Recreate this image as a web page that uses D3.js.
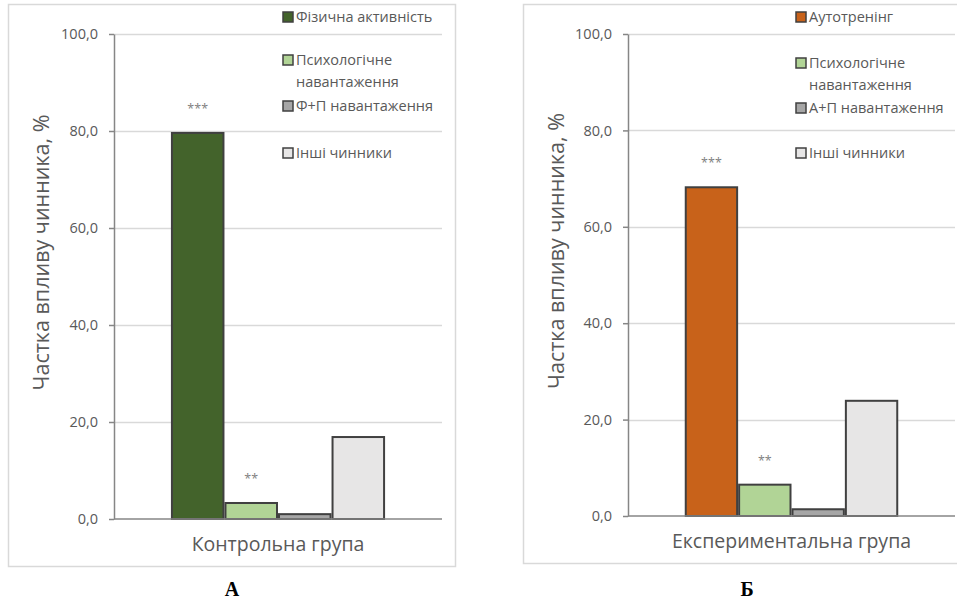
<!DOCTYPE html>
<html>
<head>
<meta charset="utf-8">
<script src="https://cdn.jsdelivr.net/npm/d3@7/dist/d3.min.js"></script>
<style>
  body { margin: 0; background: #fff; }
  svg { display: block; font-family: "Open Sans", "Noto Sans", sans-serif; }
</style>
</head>
<body>
<svg id="chart" width="957" height="602"></svg>
<script>
// data
const groups = ["Контрольна група", "Експериментальна група"];
const panelLetters = ["А", "Б"];
const seriesA = ["Фізична активність", "Психологічне навантаження", "Ф+П навантаження", "Інші чинники"];
const seriesB = ["Аутотренінг", "Психологічне навантаження", "А+П навантаження", "Інші чинники"];
const valuesA = [79.6, 3.3, 1.0, 16.9];
const valuesB = [68.2, 6.5, 1.4, 23.9];
const marksA = ["***", "**", "", ""];
const marksB = ["***", "**", "", ""];
const yTicks = [0, 20, 40, 60, 80, 100];
const yTitle = "Частка впливу чинника, %";

const colorsA = ["#43632b", "#b1d496", "#a6a6a6", "#e7e6e6"];
const colorsB = ["#c8621a", "#b1d496", "#a6a6a6", "#e7e6e6"];

const svg = d3.select("svg#chart");
const fmt = d => d.toFixed(1).replace(".", ",");

function drawPanel(p) {
  var g = svg.append("g").attr("class", "panel");

  // frame
  g.append("rect")
    .attr("x", p.frame[0] + 0.5).attr("y", p.frame[1] + 0.5)
    .attr("width", p.frame[2]).attr("height", p.frame[3])
    .attr("fill", "#fff").attr("stroke", "#d9d9d9").attr("stroke-width", 1.5);

  var y = d3.scaleLinear().domain([0, 100]).range([p.y0, p.y1]);
  var x = d3.scaleBand().domain([p.group]).range([p.left, p.right]).padding(0.21);
  var xs = d3.scaleBand().domain(d3.range(p.values.length)).range([0, x.bandwidth()]);

  // gridlines
  g.append("g").selectAll("line").data(yTicks.filter(d => d > 0)).join("line")
    .attr("x1", p.left).attr("x2", p.right)
    .attr("y1", d => Math.round(y(d)) + 0.5).attr("y2", d => Math.round(y(d)) + 0.5)
    .attr("stroke", "#d9d9d9").attr("stroke-width", 1.5);

  // y axis
  var yAxis = g.append("g")
    .attr("transform", "translate(" + p.left + ",0)")
    .call(d3.axisLeft(y).tickValues(yTicks).tickFormat(fmt).tickSizeInner(5).tickSizeOuter(0).tickPadding(11));
  yAxis.select(".domain").attr("stroke", "#868686").attr("stroke-width", 1.5);
  yAxis.selectAll(".tick line").attr("stroke", "#868686").attr("stroke-width", 1.5);
  yAxis.selectAll(".tick text").attr("fill", "#595959").attr("font-size", 14.5)
    .attr("font-family", "'Open Sans', sans-serif");

  // bars
  g.append("g").selectAll("rect").data(p.values).join("rect")
    .attr("x", (d, i) => x(p.group) + xs(i) + 1)
    .attr("width", xs.bandwidth() - 2)
    .attr("y", d => y(d))
    .attr("height", d => y(0) - y(d))
    .attr("fill", (d, i) => p.colors[i])
    .attr("stroke", "#404040").attr("stroke-width", 2);

  // significance marks
  g.append("g").selectAll("text").data(p.values).join("text")
    .attr("x", (d, i) => x(p.group) + xs(i) + xs.bandwidth() / 2)
    .attr("y", (d, i) => y(d) - 20)
    .attr("text-anchor", "middle")
    .attr("fill", "#7f7f7f").attr("font-size", 12.5)
    .text((d, i) => p.marks[i]);

  // x axis line
  g.append("line")
    .attr("x1", p.left).attr("x2", p.right)
    .attr("y1", y(0)).attr("y2", y(0))
    .attr("stroke", "#868686").attr("stroke-width", 1.5);

  // x label
  g.append("text")
    .attr("x", x(p.group) + x.bandwidth() / 2)
    .attr("y", y(0) + 32)
    .attr("text-anchor", "middle")
    .attr("fill", "#595959").attr("font-size", 19.5)
    .text(p.group);

  // y title
  g.append("text")
    .attr("transform", "translate(" + p.titleX + "," + ((p.y0 + p.y1) / 2 - 24) + ") rotate(-90)")
    .attr("text-anchor", "middle")
    .attr("fill", "#595959").attr("font-size", 21.5)
    .text(yTitle);

  // legend
  var leg = g.append("g").selectAll("g").data(p.series).join("g")
    .attr("transform", (d, i) => "translate(" + p.legendX + "," + p.legendY[i] + ")");
  leg.append("rect")
    .attr("x", 0).attr("y", -10).attr("width", 10).attr("height", 10)
    .attr("fill", (d, i) => p.colors[i])
    .attr("stroke", "#404040").attr("stroke-width", 1.5);
  leg.each(function(d) {
    var lines = d === "Психологічне навантаження" ? ["Психологічне", "навантаження"] : [d];
    d3.select(this).selectAll("text").data(lines).join("text")
      .attr("x", 13)
      .attr("y", (l, j) => j * 22)
      .attr("fill", "#595959").attr("font-size", 14.5)
      .text(l => l);
  });

  // panel letter
  svg.append("text")
    .attr("x", p.letterX).attr("y", 596)
    .attr("text-anchor", "middle")
    .attr("font-family", "'Liberation Serif', 'Times New Roman', serif")
    .attr("font-weight", "bold").attr("font-size", 20)
    .attr("fill", "#000")
    .text(p.letter);
}

drawPanel({
  group: groups[0], letter: panelLetters[0], series: seriesA, values: valuesA,
  marks: marksA, colors: colorsA,
  frame: [8, 4, 447, 562], left: 114, right: 442, y0: 519, y1: 34,
  titleX: 49, legendX: 283, legendY: [22, 65, 111, 158], letterX: 232
});

drawPanel({
  group: groups[1], letter: panelLetters[1], series: seriesB, values: valuesB,
  marks: marksB, colors: colorsB,
  frame: [523, 4, 445, 559], left: 628, right: 955, y0: 516, y1: 34,
  titleX: 564, legendX: 796, legendY: [22, 68, 113, 158], letterX: 747
});
</script>
</body>
</html>
